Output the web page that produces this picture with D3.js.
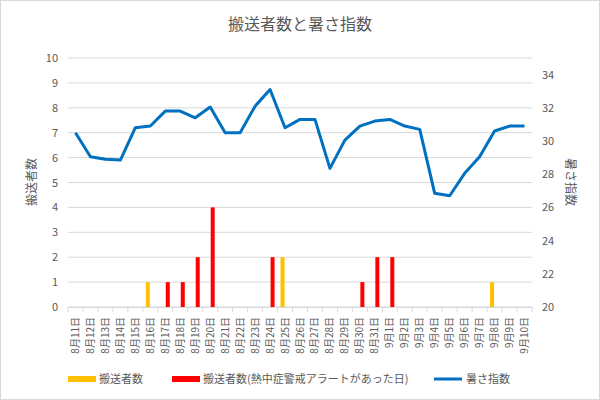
<!DOCTYPE html>
<html><head><meta charset="utf-8">
<script src="https://cdn.jsdelivr.net/npm/d3@7"></script>
<style>body{margin:0;background:#fff;font-family:"Noto Sans CJK JP",sans-serif}</style>
</head><body><svg id="c" width="600" height="400"></svg>
<script>
const categories=["8月11日","8月12日","8月13日","8月14日","8月15日","8月16日","8月17日","8月18日","8月19日","8月20日","8月21日","8月22日","8月23日","8月24日","8月25日","8月26日","8月27日","8月28日","8月29日","8月30日","8月31日","9月1日","9月2日","9月3日","9月4日","9月5日","9月6日","9月7日","9月8日","9月9日","9月10日"];
const transported=[0,0,0,0,0,1,0,0,0,0,0,0,0,0,2,0,0,0,0,0,0,0,0,0,0,0,0,0,1,0,0];
const transportedAlert=[0,0,0,0,0,0,1,1,2,4,0,0,0,2,0,0,0,0,0,1,2,2,0,0,0,0,0,0,0,0,0];
const wbgt=[30.5,29.05,28.9,28.85,30.8,30.9,31.8,31.8,31.4,32.05,30.5,30.5,32.1,33.1,30.8,31.3,31.3,28.35,30.05,30.9,31.2,31.3,30.9,30.7,26.85,26.7,28.05,29.05,30.6,30.9,30.9];
const leftTicks=[0,1,2,3,4,5,6,7,8,9,10];
const rightTicks=[20,22,24,26,28,30,32,34];

const svg=d3.select("#c");
svg.append("rect").attr("x",0.5).attr("y",0.5).attr("width",599).attr("height",399).attr("fill","#fff").attr("stroke","#d9d9d9");
const L=68,R=532,T=58,B=307;
const x=d3.scaleBand().domain(categories).range([L,R]);
const yL=d3.scaleLinear().domain([0,10]).range([B,T]);
const yR=d3.scaleLinear().domain([20,35]).range([B,T]);
const txt="#595959";
svg.append("text").attr("x",300).attr("y",30).attr("text-anchor","middle").attr("font-size",16).attr("fill",txt).text("搬送者数と暑さ指数");
svg.append("g").selectAll("line").data(leftTicks).join("line")
 .attr("x1",L).attr("x2",R).attr("y1",d=>yL(d)).attr("y2",d=>yL(d)).attr("stroke","#d9d9d9");
const gl=svg.append("g").attr("transform",`translate(${L},0)`).call(d3.axisLeft(yL).tickValues(leftTicks).tickSize(0).tickPadding(10));
gl.select(".domain").remove();gl.selectAll("text").attr("fill",txt).attr("font-size",11).attr("font-family","Noto Sans CJK JP");
const gr=svg.append("g").attr("transform",`translate(${R},0)`).call(d3.axisRight(yR).tickValues(rightTicks).tickSize(0).tickPadding(10));
gr.select(".domain").remove();gr.selectAll("text").attr("fill",txt).attr("font-size",11).attr("font-family","Noto Sans CJK JP");
const gx=svg.append("g").attr("transform",`translate(0,${B})`).call(d3.axisBottom(x).tickSize(0));
gx.select(".domain").attr("stroke","#d9d9d9");
svg.append("g").selectAll("line").data(categories.concat([null])).join("line")
 .attr("x1",(d,i)=>L+i*x.step()).attr("x2",(d,i)=>L+i*x.step()).attr("y1",B).attr("y2",B+5).attr("stroke","#d9d9d9");
gx.selectAll("text").attr("fill",txt).attr("font-size",10).attr("font-family","Noto Sans CJK JP")
 .attr("transform","rotate(-90)").attr("text-anchor","end").attr("dx","-6").attr("dy","0.35em").attr("y",0).attr("x",-4);
const bw=4;
svg.append("g").selectAll("rect").data(transported).join("rect")
 .attr("x",(d,i)=>x(categories[i])+x.bandwidth()/2-bw-0.5).attr("width",bw)
 .attr("y",d=>yL(d)).attr("height",d=>B-yL(d)).attr("fill","#ffc000");
svg.append("g").selectAll("rect").data(transportedAlert).join("rect")
 .attr("x",(d,i)=>x(categories[i])+x.bandwidth()/2+0.5).attr("width",bw)
 .attr("y",d=>yL(d)).attr("height",d=>B-yL(d)).attr("fill","#ff0000");
const line=d3.line().x((d,i)=>x(categories[i])+x.bandwidth()/2).y(d=>yR(d));
svg.append("path").datum(wbgt).attr("d",line).attr("fill","none").attr("stroke","#0070c0").attr("stroke-width",3).attr("stroke-linejoin","round");
svg.append("text").attr("transform","translate(36,182) rotate(-90)").attr("text-anchor","middle").attr("font-size",12).attr("fill",txt).text("搬送者数");
svg.append("text").attr("transform","translate(566,182) rotate(90)").attr("text-anchor","middle").attr("font-size",12).attr("fill",txt).text("暑さ指数");
const lg=svg.append("g").attr("font-size",11).attr("fill",txt);
lg.append("rect").attr("x",68).attr("y",376).attr("width",28).attr("height",6).attr("fill","#ffc000");
lg.append("text").attr("x",99).attr("y",383).text("搬送者数");
lg.append("rect").attr("x",172).attr("y",376).attr("width",28).attr("height",6).attr("fill","#ff0000");
lg.append("text").attr("x",203).attr("y",383).text("搬送者数(熱中症警戒アラートがあった日)");
lg.append("line").attr("x1",434).attr("x2",462).attr("y1",379).attr("y2",379).attr("stroke","#0070c0").attr("stroke-width",3);
lg.append("text").attr("x",466).attr("y",383).text("暑さ指数");
</script></body></html>
